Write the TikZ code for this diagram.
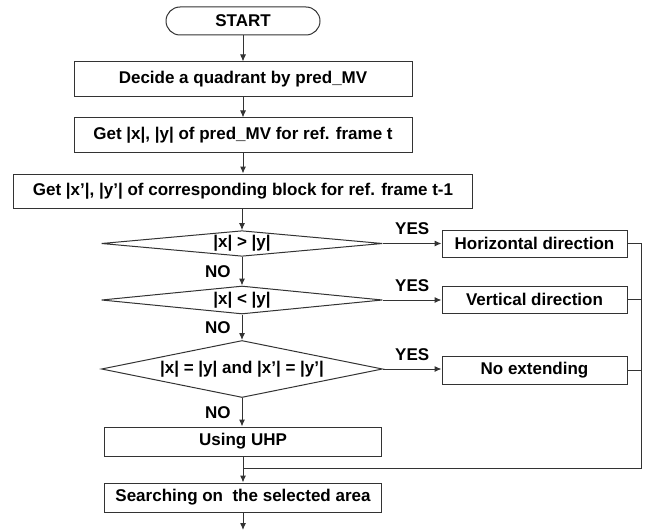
\documentclass[tikz,border=0pt]{standalone}
\usepackage{fontspec}
\setmainfont{Liberation Sans}
\usetikzlibrary{shapes.geometric, arrows.meta}
\tikzset{
  every node/.style={font=\bfseries\fontsize{17}{20}\selectfont},
  proc/.style={draw, inner sep=0pt},
  decide/.style={draw, diamond, inner sep=0pt, aspect=6},
  lbl/.style={inner sep=2pt}
}
\begin{document}
\begin{tikzpicture}[x=1pt, y=-1pt, line width=1pt, draw=black!80, >={Latex[length=7pt, width=6pt]}]
    \useasboundingbox (0,0) rectangle (650,532);
    \node[proc, rounded corners=14pt, minimum width=154pt, minimum height=28pt] (start) at (243,21) {START};
    \node[proc, minimum width=338pt, minimum height=35pt] (quad) at (243,79.5) {Decide a quadrant by pred\_MV};
    \node[proc, minimum width=338pt, minimum height=34pt] (getxy) at (243,135) {Get |x|, |y| of pred\_MV for ref. frame t};
    \node[proc, minimum width=459pt, minimum height=34pt] (getblk) at (243,191) {Get |x'|, |y'| of corresponding block for ref. frame t-1};
    \node[decide, minimum width=281pt, minimum height=24pt] (gt) at (242,243.5) {|x| > |y|};
    \node[decide, minimum width=281pt, minimum height=28pt] (lt) at (242,300) {|x| < |y|};
    \node[decide, minimum width=281pt, minimum height=57pt] (eq) at (242,369) {|x| = |y| and |x'| = |y'|};
    \node[proc, minimum width=185pt, minimum height=27pt] (hor) at (534.5,243.5) {Horizontal direction};
    \node[proc, minimum width=185pt, minimum height=27pt] (ver) at (534.5,299.5) {Vertical direction};
    \node[proc, minimum width=185pt, minimum height=28pt] (noext) at (534.5,370) {No extending};
    \node[proc, minimum width=277pt, minimum height=29pt] (uhp) at (243,441.5) {Using UHP};
    \node[proc, minimum width=277pt, minimum height=29pt] (search) at (243,497.5) {Searching on~ the selected area};
    \coordinate (merge) at (243,468);
    \coordinate (corner) at (641,468);
    \coordinate (done) at (243,530);
    \path[->] (start) edge (quad);
    \path[->] (quad) edge (getxy);
    \path[->] (getxy) edge (getblk);
    \path[->] (getblk.south -| gt.north) edge (gt.north);
    \path[->] (gt) edge node[lbl, left, xshift=-9pt] {NO} (lt);
    \path[->] (lt) edge node[lbl, left, xshift=-9pt] {NO} (eq);
    \path[->] (eq.south) edge node[lbl, left, xshift=-9pt] {NO} (eq.south |- uhp.north);
    \path[->] (gt.east) edge node[lbl, above, yshift=6pt] {YES} (hor.west |- gt.east);
    \path[->] (lt.east) edge node[lbl, above, yshift=6pt] {YES} (ver.west |- lt.east);
    \path[->] (eq.east) edge node[lbl, above, yshift=6pt] {YES} (noext.west |- eq.east);
    \draw (hor.east) -| (corner) -- (merge);
    \draw (ver.east) -- (ver.east -| corner);
    \draw (noext.east) -- (noext.east -| corner);
    \path[->] (uhp) edge (search);
    \path[->] (search) edge (done);
\end{tikzpicture}
\end{document}
